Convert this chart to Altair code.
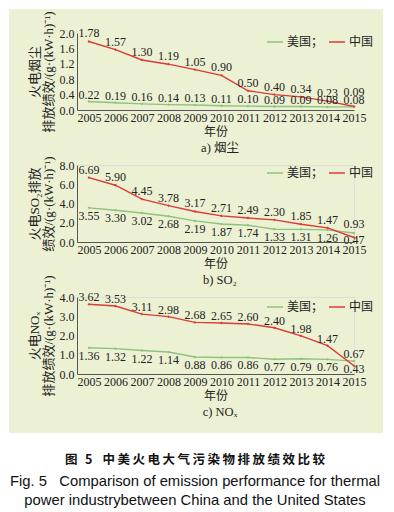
import altair as alt
import pandas as pd

years = list(range(2005, 2016))
series_names = ["美国", "中国"]
dust_us = [0.22, 0.19, 0.16, 0.14, 0.13, 0.11, 0.10, 0.09, 0.09, 0.08, 0.08]
dust_cn = [1.78, 1.57, 1.30, 1.19, 1.05, 0.90, 0.50, 0.40, 0.34, 0.23, 0.09]
so2_us = [3.55, 3.30, 3.02, 2.68, 2.19, 1.87, 1.74, 1.33, 1.31, 1.26, 0.93]
so2_cn = [6.69, 5.90, 4.45, 3.78, 3.17, 2.71, 2.49, 2.30, 1.85, 1.47, 0.47]
nox_us = [1.36, 1.32, 1.22, 1.14, 0.88, 0.86, 0.86, 0.77, 0.79, 0.76, 0.67]
nox_cn = [3.62, 3.53, 3.11, 2.98, 2.68, 2.65, 2.60, 2.40, 1.98, 1.47, 0.43]

panel_titles = ["a) 烟尘", "b) SO₂", "c) NOₓ"]
y_titles = [
    ["火电烟尘", "排放绩效/(g·(kW·h)⁻¹)"],
    ["火电SO₂排放", "绩效/(g·(kW·h)⁻¹)"],
    ["火电NOₓ", "排放绩效/(g·(kW·h)⁻¹)"],
]
y_domains = [[0, 2], [0, 8], [0, 4]]
y_ticks = [[0, 0.4, 0.8, 1.2, 1.6, 2.0], [0, 2, 4, 6, 8], [0, 1, 2, 3, 4]]
x_title = "年份"
caption_cn = "图\u2009\u2009\u20095\u2009\u2009\u2009\u2009中\u2009美\u2009火\u2009电\u2009大\u2009气\u2009污\u2009染\u2009物\u2009排\u2009放\u2009绩\u2009效\u2009比\u2009较"
caption_en1 = "Fig. 5\u00a0\u00a0\u00a0Comparison of emission performance for thermal"
caption_en2 = "power industrybetween China and the United States"

SERIF = "'Liberation Serif', 'Noto Sans CJK SC'"
CJK = "'Noto Sans CJK SC'"
GREEN = "#8fc27c"
RED = "#dc3b35"
BG = "#ecf1d3"
W, H = 277, 77


def make_df(us, cn):
    rows = []
    for s, vals in zip(series_names, [us, cn]):
        for yr, v in zip(years, vals):
            rows.append({"year": yr, "value": v, "series": s, "label": f"{v:.2f}"})
    return pd.DataFrame(rows)


def panel(idx, us, cn, dys, legend_y, before=None, after=None):
    df = make_df(us, cn)
    base = alt.Chart(df)
    x = alt.X("year:Q", scale=alt.Scale(domain=[2004.55, 2015], nice=False, zero=False),
              axis=alt.Axis(values=years, format="d", title=x_title, labelFont=SERIF,
                            labelFontSize=12, labelColor="#222", titleFont=CJK,
                            titleFontSize=12, titleFontWeight="normal", titleColor="#222",
                            titlePadding=3, labelPadding=2, ticks=False, grid=False,
                            domainColor="#555", labelFlush=False, labelOverlap=False,
                            zindex=2))
    y = alt.Y("value:Q", scale=alt.Scale(domain=y_domains[idx], nice=False),
              axis=alt.Axis(values=y_ticks[idx], format=".1f", title=y_titles[idx],
                            labelFont=SERIF, labelFontSize=12, labelColor="#222",
                            titleFont=SERIF, titleFontSize=13, titleFontWeight="normal",
                            titleColor="#222", titlePadding=4, titleLineHeight=14,
                            labelPadding=3, ticks=False, grid=False, domainColor="#555",
                            labelOverlap=False, zindex=2))
    color = alt.Color("series:N", scale=alt.Scale(domain=series_names, range=[GREEN, RED]),
                      legend=alt.Legend(orient="none", legendX=189, legendY=legend_y,
                                        direction="horizontal", title=None,
                                        symbolType="stroke", symbolSize=256,
                                        symbolStrokeWidth=1.5, labelFont=CJK,
                                        labelFontSize=12, labelColor="#222",
                                        labelOffset=3, columnPadding=2, zindex=2,
                                        labelExpr="datum.label == '美国' ? '美国；' : datum.label"))
    line = base.mark_line(strokeWidth=1.4).encode(x=x, y=y, color=color)
    pts = base.mark_point(filled=True, size=8, shape="diamond", opacity=1).encode(
        x=x, y=y, color=color)
    layers = []
    if before is not None:
        layers.extend(before)
    layers += [line, pts]
    # dys: (us_dy, cn_dy, us_last_dy, cn_last_dy)
    for s, d_main, d_last in [("美国", dys[0], dys[2]), ("中国", dys[1], dys[3])]:
        layers.append(base.transform_filter(
            f"datum.series == '{s}' && datum.year < 2015").mark_text(
            font=SERIF, fontSize=12, color="#222", dy=d_main).encode(
            x=x, y=y, text="label:N"))
        layers.append(base.transform_filter(
            f"datum.series == '{s}' && datum.year == 2015").mark_text(
            font=SERIF, fontSize=12, color="#222", dy=d_last).encode(
            x=x, y=y, text="label:N"))
    ttl = alt.Chart(pd.DataFrame({"t": [panel_titles[idx]]})).mark_text(
        font=SERIF, fontSize=12.5, color="#222").encode(
        text="t:N", x=alt.value(143), y=alt.value(H + 38))
    layers.append(ttl)
    if after is not None:
        layers.extend(after)
    return alt.layer(*layers).properties(width=W, height=H)


bg = alt.Chart(pd.DataFrame({"k": [0]})).mark_rect(color=BG).encode(
    x=alt.value(-68), x2=alt.value(306), y=alt.value(-24), y2=alt.value(400))

cap_df = pd.DataFrame({"t": [caption_cn, caption_en1, caption_en2], "i": [0, 1, 2]})
cap1 = alt.Chart(cap_df).transform_filter("datum.i == 0").mark_text(
    font=CJK, fontSize=12.5, fontWeight="bold", color="#111").encode(
    text="t:N", x=alt.value(118), y=alt.value(H + 86))
cap2 = alt.Chart(cap_df).transform_filter("datum.i == 1").mark_text(
    font="'Liberation Sans'", fontSize=14.8, color="#111").encode(
    text="t:N", x=alt.value(118), y=alt.value(H + 108))
cap3 = alt.Chart(cap_df).transform_filter("datum.i == 2").mark_text(
    font="'Liberation Sans'", fontSize=14.8, color="#111").encode(
    text="t:N", x=alt.value(118), y=alt.value(H + 127))

p1 = panel(0, dust_us, dust_cn, (-7, -8, -7, -15), 0, before=[bg])
p2 = panel(1, so2_us, so2_cn, (8, -8, -9, 3), -1)
p3 = panel(2, nox_us, nox_cn, (8, -7, -7, 3), 1, after=[cap1, cap2, cap3])

chart = alt.vconcat(p1, p2, p3, spacing=55, bounds="flush").resolve_legend(
    color="independent").properties(padding=0).configure_view(
    stroke=None).configure(background="white")

chart.save("out.html", embed_options={"renderer": "svg", "actions": False})
